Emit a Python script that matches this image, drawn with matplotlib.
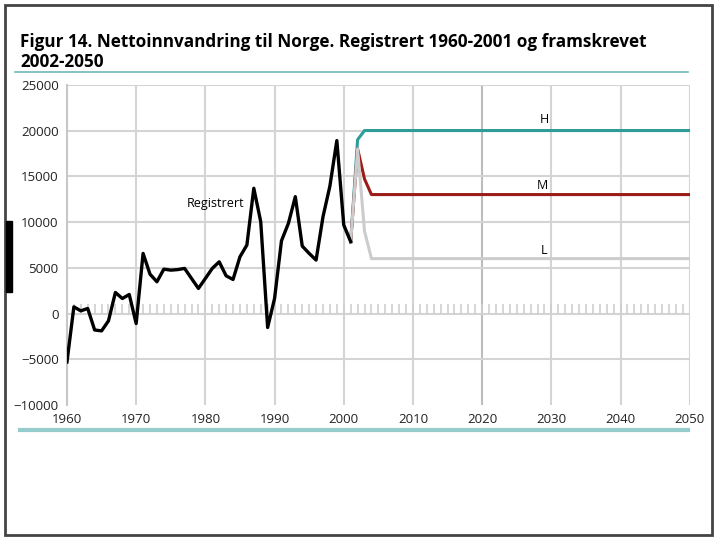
import matplotlib.pyplot as plt
import matplotlib.patches as patches
import numpy as np

years = np.arange(1960, 2002)
registrert = [-5300, 730, 290, 550, -1800, -1900, -800, 2300, 1640, 2080,
              -1100, 6570, 4300, 3470, 4850, 4740, 4800, 4930, 3830, 2740,
              3830, 4930, 5650, 4120, 3720, 6200, 7480, 13690, 10040, -1530,
              1640, 7950, 9850, 12770, 7370, 6570, 5840, 10580, 13940, 18900,
              9670, 7850]

proj_years = [2001, 2002, 2003, 2004, 2050]
high = [7850, 19000, 20000, 20000, 20000]
middle = [7850, 18000, 14700, 13000, 13000]
low = [7850, 18000, 9000, 6000, 6000]

plt.rcParams['font.family'] = ['Open Sans', 'DejaVu Sans']

fig = plt.figure(figsize=(7.2, 5.4), dpi=100)
ax = fig.add_axes([0.093, 0.25, 0.865, 0.593])

grid_col = '#d4d4d4'
for x in range(1960, 2051, 10):
    ax.axvline(x, color=grid_col if x != 2020 else '#bdbdbd', lw=1.5, zorder=0)
for y in range(-5000, 25001, 5000):
    ax.axhline(y, color=grid_col, lw=1.5, zorder=0)

# small year ticks on the zero line
ax.vlines(np.arange(1961, 2050), 0, 1000, color='#cfcfcf', lw=1.2, zorder=0)

ax.plot(proj_years, middle, color='#9b1c17', lw=2.2, zorder=3)
ax.plot(proj_years, high, color='#2f9c99', lw=2.2, zorder=2)
ax.plot(proj_years, low, color='#cccccc', lw=2.2, zorder=4)
ax.plot(years, registrert, color='black', lw=2.4, zorder=5)

ax.text(1981.5, 12000, 'Registrert', fontsize=9, ha='center', va='center')
ax.text(2029, 21200, 'H', fontsize=9, ha='center', va='center')
ax.text(2028.7, 14000, 'M', fontsize=9, ha='center', va='center')
ax.text(2029, 6900, 'L', fontsize=9, ha='center', va='center')

ax.set_xlim(1960, 2050)
ax.set_ylim(-10000, 25000)
ax.set_xticks(range(1960, 2051, 10))
ax.set_yticks(range(-10000, 25001, 5000))
ax.tick_params(length=0, labelsize=9.5, colors='#222222', pad=6)
for s in ['top', 'right', 'bottom']:
    ax.spines[s].set_visible(False)
ax.spines['left'].set_color('#c8c8c8')
ax.spines['left'].set_linewidth(1.5)

fig.text(0.028, 0.938, 'Figur 14. Nettoinnvandring til Norge. Registrert 1960-2001 og framskrevet\n2002-2050',
         fontsize=12.3, fontweight='bold', va='top', ha='left',
         linespacing=1.12)

fig.add_artist(plt.Line2D([0.021, 0.955], [0.867, 0.867], color='#6fb8b8', lw=1.2))
fig.add_artist(plt.Line2D([0.028, 0.955], [0.204, 0.204], color='#96cccc', lw=3))

fig.add_artist(patches.Rectangle((0.007, 0.01), 0.982, 0.98, fill=False,
                                 edgecolor='#444444', lw=2, transform=fig.transFigure))
fig.add_artist(patches.Rectangle((0.008, 0.46), 0.009, 0.13, color='black',
                                 transform=fig.transFigure))

fig.savefig('out.png', dpi=100)
